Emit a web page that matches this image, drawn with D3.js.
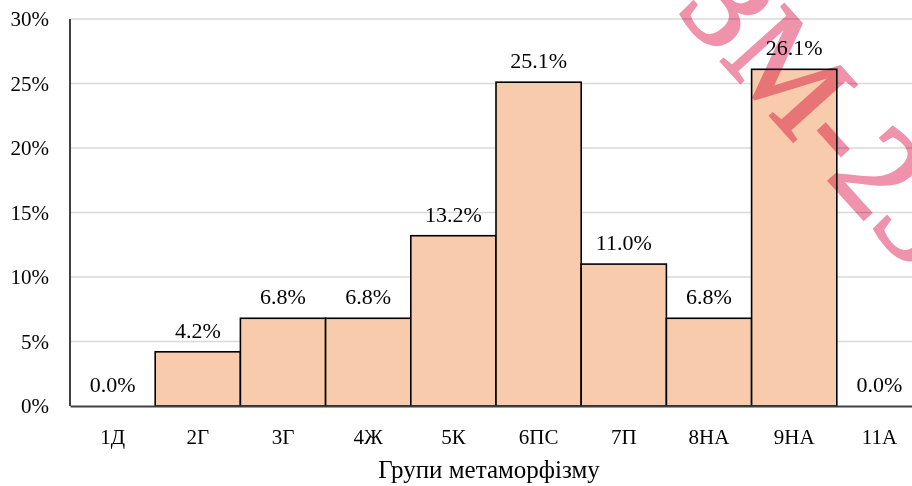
<!DOCTYPE html>
<html>
<head>
<meta charset="utf-8">
<script src="https://cdn.jsdelivr.net/npm/d3@7"></script>
<style>
  html, body { margin: 0; padding: 0; background: #fff; }
  svg { display: block; }
</style>
</head>
<body>
<svg id="chart" width="912" height="486"></svg>
<script>
// Share of samples in each metamorphism group, %
const categories = ["1Д", "2Г", "3Г", "4Ж", "5К", "6ПС", "7П", "8НА", "9НА", "11А"];
const values = [0.0, 4.2, 6.8, 6.8, 13.2, 25.1, 11.0, 6.8, 26.1, 0.0];
const yTicks = [0, 5, 10, 15, 20, 25, 30];
const xTitle = "Групи метаморфізму";
const stamp = "ЗМ-23";

const svg = d3.select("#chart");
const margin = { left: 70, top: 19, bottom: 80 };
const plotRight = 922;
const height = 486;

const x = d3.scaleBand()
  .domain(categories)
  .range([margin.left, plotRight])
  .paddingInner(0)
  .paddingOuter(0);

const y = d3.scaleLinear()
  .domain([0, 30])
  .range([height - margin.bottom, margin.top]);

const font = "'Liberation Serif', 'Times New Roman', serif";

// horizontal gridlines
svg.append("g")
  .selectAll("line")
  .data(yTicks.filter(d => d > 0))
  .join("line")
  .attr("x1", margin.left)
  .attr("x2", plotRight)
  .attr("y1", d => y(d))
  .attr("y2", d => y(d))
  .attr("stroke", "#d9d9d9")
  .attr("stroke-width", 1.5);

// y axis labels
const yAxis = d3.axisLeft(y)
  .tickValues(yTicks)
  .tickFormat(d => d + "%")
  .tickSize(0)
  .tickPadding(21);

svg.append("g")
  .attr("transform", `translate(${margin.left},0)`)
  .call(yAxis)
  .call(g => g.select(".domain").remove())
  .call(g => g.selectAll("text")
    .attr("font-family", font)
    .attr("font-size", 21)
    .attr("fill", "#000"));

// bars
svg.append("g")
  .selectAll("rect")
  .data(categories.map((c, i) => ({ c, v: values[i] })).filter(d => d.v > 0))
  .join("rect")
  .attr("x", d => x(d.c))
  .attr("y", d => y(d.v))
  .attr("width", x.bandwidth())
  .attr("height", d => y(0) - y(d.v))
  .attr("fill", "#f8cbad")
  .attr("stroke", "#000")
  .attr("stroke-width", 1.6);

// value labels
svg.append("g")
  .selectAll("text")
  .data(categories.map((c, i) => ({ c, v: values[i] })))
  .join("text")
  .attr("x", d => x(d.c) + x.bandwidth() / 2)
  .attr("y", d => y(d.v) - 14)
  .attr("text-anchor", "middle")
  .attr("font-family", font)
  .attr("font-size", 22)
  .attr("fill", "#000")
  .text(d => d.v.toFixed(1) + "%");

// axis lines
svg.append("line")
  .attr("x1", margin.left).attr("x2", margin.left)
  .attr("y1", y(30)).attr("y2", y(0))
  .attr("stroke", "#404040").attr("stroke-width", 2);

const xAxis = d3.axisBottom(x).tickSize(0).tickPadding(23);
svg.append("g")
  .attr("transform", `translate(0,${y(0)})`)
  .call(xAxis)
  .call(g => g.select(".domain")
    .attr("stroke", "#404040").attr("stroke-width", 2))
  .call(g => g.selectAll("text")
    .attr("font-family", font)
    .attr("font-size", 21)
    .attr("fill", "#000"));

// x axis title
svg.append("text")
  .attr("x", 489)
  .attr("y", 478)
  .attr("text-anchor", "middle")
  .attr("font-family", font)
  .attr("font-size", 25)
  .attr("fill", "#000")
  .text(xTitle);

// diagonal stamp
svg.append("text")
  .attr("transform", "translate(675,10) rotate(48)")
  .attr("font-family", font)
  .attr("font-size", 130)
  .attr("fill", "#ef93ad")
  .attr("stroke", "#ef93ad")
  .attr("stroke-width", 2.5)
  .style("mix-blend-mode", "multiply")
  .text(stamp);
</script>
</body>
</html>
